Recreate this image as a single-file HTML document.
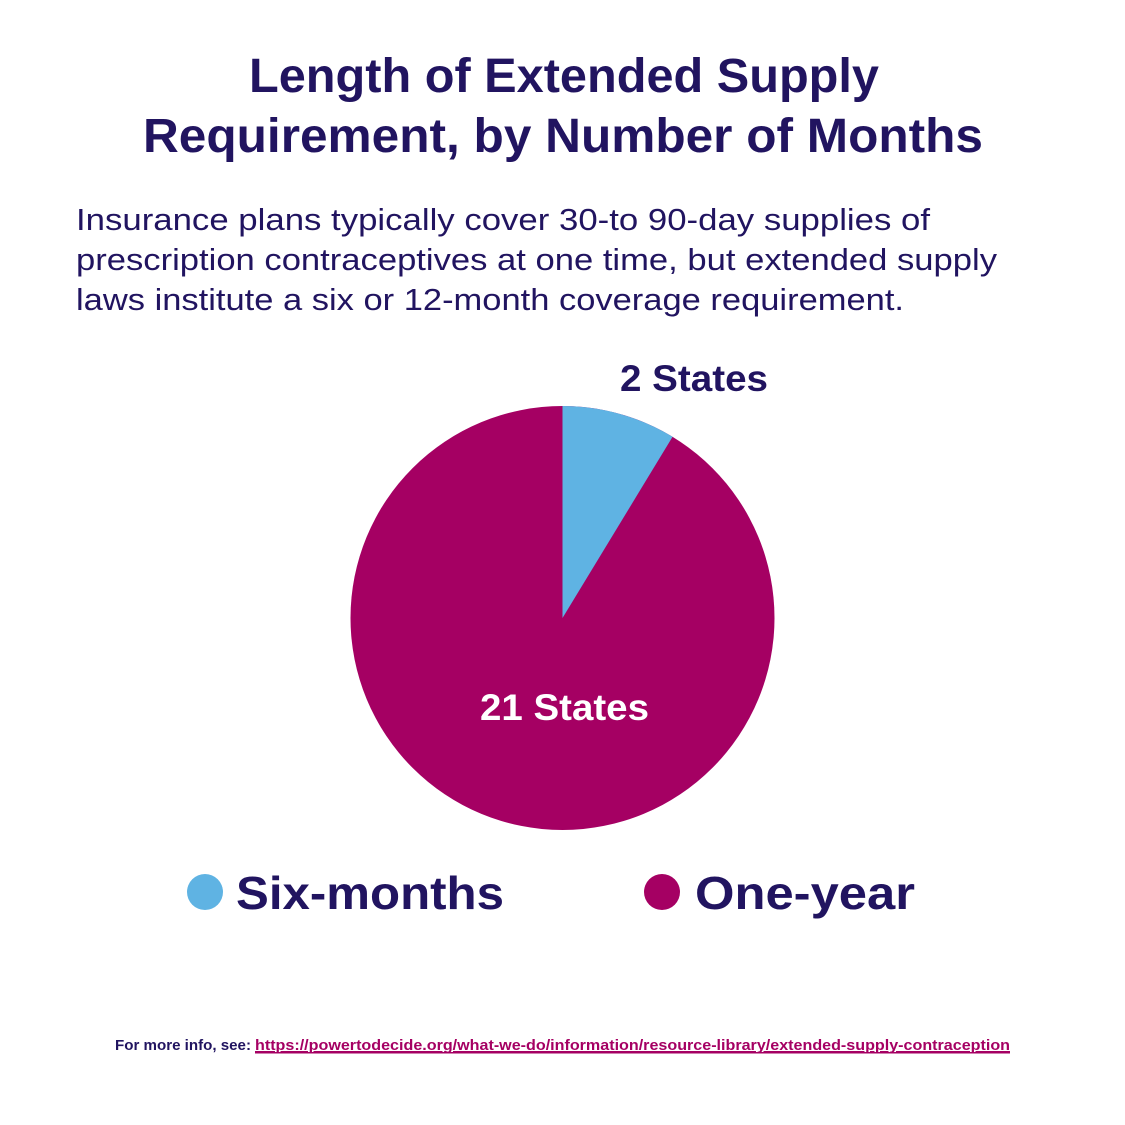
<!DOCTYPE html>
<html><head><meta charset="utf-8"><style>
html,body{margin:0;padding:0;background:#fff;}
svg{display:block;}
text{font-family:"Liberation Sans",sans-serif;}
</style></head><body>
<svg width="1125" height="1125" viewBox="0 0 1125 1125" xmlns="http://www.w3.org/2000/svg">
<rect width="1125" height="1125" fill="#fff"/>
<g fill="#211460" font-weight="bold" font-size="48">
<text x="249" y="92" textLength="630" lengthAdjust="spacingAndGlyphs">Length of Extended Supply</text>
<text x="143" y="152" textLength="840" lengthAdjust="spacingAndGlyphs">Requirement, by Number of Months</text>
</g>
<g fill="#211460" font-size="31">
<text x="76" y="230" textLength="854" lengthAdjust="spacingAndGlyphs">Insurance plans typically cover 30-to 90-day supplies of</text>
<text x="76" y="270" textLength="921" lengthAdjust="spacingAndGlyphs">prescription contraceptives at one time, but extended supply</text>
<text x="76" y="310" textLength="828" lengthAdjust="spacingAndGlyphs">laws institute a six or 12-month coverage requirement.</text>
</g>
<circle cx="562.5" cy="618" r="212" fill="#a50063"/>
<path d="M562.5 618 L562.5 406 A212 212 0 0 1 672.6 436.8 Z" fill="#5fb3e3"/>
<text x="620" y="391" fill="#211460" font-weight="bold" font-size="37" textLength="148" lengthAdjust="spacingAndGlyphs">2 States</text>
<text x="480" y="720" fill="#fff" font-weight="bold" font-size="37" textLength="169" lengthAdjust="spacingAndGlyphs">21 States</text>
<circle cx="205" cy="892" r="18" fill="#5fb3e3"/>
<circle cx="662" cy="892" r="18" fill="#a50063"/>
<g fill="#211460" font-weight="bold" font-size="46">
<text x="236" y="909" textLength="268" lengthAdjust="spacingAndGlyphs">Six-months</text>
<text x="695" y="909" textLength="220" lengthAdjust="spacingAndGlyphs">One-year</text>
</g>
<text x="115" y="1050" fill="#211460" font-weight="bold" font-size="15" textLength="136" lengthAdjust="spacingAndGlyphs">For more info, see:</text>
<text x="255" y="1050" fill="#a50063" font-weight="bold" font-size="15" textLength="755" lengthAdjust="spacingAndGlyphs" text-decoration="underline">https://powertodecide.org/what-we-do/information/resource-library/extended-supply-contraception</text>
<rect x="255" y="1052" width="755" height="1.5" fill="#a50063"/>
</svg>
</body></html>
